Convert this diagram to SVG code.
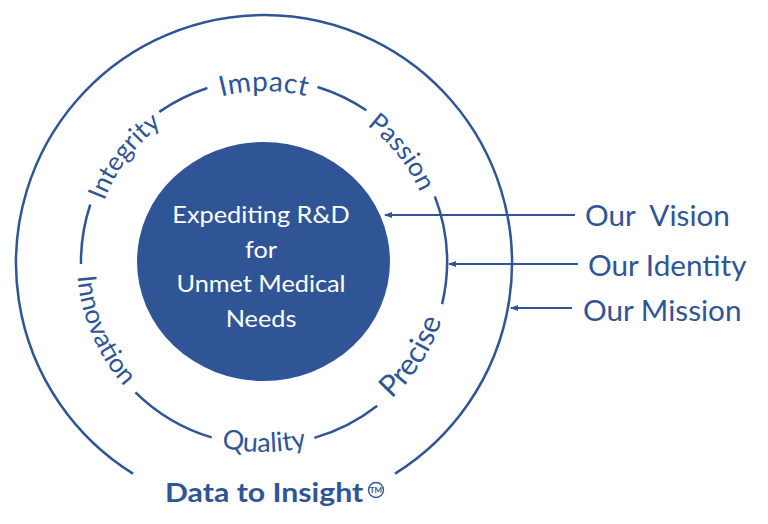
<svg xmlns="http://www.w3.org/2000/svg" xmlns:xlink="http://www.w3.org/1999/xlink" width="768" height="524" viewBox="0 0 768 524">
<style>
.ln{fill:none;stroke:#2F5597;stroke-width:2.5;}
.ar{fill:none;stroke:#2F5597;stroke-width:2;}
.t{font-family:Lato,"Liberation Sans",sans-serif;fill:#2F5597;}
.w{font-family:Lato,"Liberation Sans",sans-serif;fill:#FFFFFF;font-size:23px;text-anchor:middle;}
.lab{font-family:Lato,"Liberation Sans",sans-serif;fill:#2F5597;font-size:28px;white-space:pre;}
</style>
<defs>
<marker id="ah" markerWidth="8" markerHeight="6" refX="7" refY="3" orient="auto" markerUnits="userSpaceOnUse">
<path d="M0,0 L8,3 L0,6 Z" fill="#2F5597"/>
</marker>
<path id="topArc" d="M 93,262 A 171 171 0 0 1 435,262"/>
<path id="botArc" d="M 77,262 A 187 187 0 0 0 451,262"/>
<path id="botArcQ" d="M 74,262 A 190 190 0 0 0 454,262"/>
</defs>
<rect width="768" height="524" fill="#FFFFFF"/>
<g id="outer-ring">
<path class="ln" d="M 133,473.6 A 248 248 0 1 1 395,473.6"/>
</g>
<g id="values-ring">
<path class="ln" d="M 159.3,111.9 A 183 183 0 0 1 207.4,88.0"/>
<path class="ln" d="M 317.5,87.0 A 183 183 0 0 1 366.3,110.3"/>
<path class="ln" d="M 434.8,196.4 A 183 183 0 0 1 442.1,304.1"/>
<path class="ln" d="M 377.2,405.8 A 183 183 0 0 1 314.4,437.9"/>
<path class="ln" d="M 211.7,437.4 A 183 183 0 0 1 135.5,392.3"/>
<path class="ln" d="M 81.0,263.9 A 183 183 0 0 1 90.3,204.5"/>
</g>
<g id="values-labels">
<text class="t" font-size="26"><textPath xlink:href="#topArc" href="#topArc" startOffset="20.6%" text-anchor="middle">Integrity</textPath></text>
<text class="t" font-size="28" letter-spacing="0.5"><textPath xlink:href="#topArc" href="#topArc" startOffset="50%" text-anchor="middle">Impact</textPath></text>
<text class="t" font-size="26"><textPath xlink:href="#topArc" href="#topArc" startOffset="78.6%" text-anchor="middle">Passion</textPath></text>
<text class="t" font-size="26"><textPath xlink:href="#botArc" href="#botArc" startOffset="12.8%" text-anchor="middle">Innovation</textPath></text>
<text class="t" font-size="27"><textPath xlink:href="#botArcQ" href="#botArcQ" startOffset="50%" text-anchor="middle">Quality</textPath></text>
<text class="t" font-size="30"><textPath xlink:href="#botArc" href="#botArc" startOffset="81.9%" text-anchor="middle">Precise</textPath></text>
</g>
<g id="vision-core">
<ellipse cx="263.5" cy="261.5" rx="126.5" ry="119.5" fill="#2F5597"/>
<text class="w" transform="translate(261,223) scale(1.1,1)">Expediting R&amp;D</text>
<text class="w" transform="translate(261,258) scale(1.1,1)">for</text>
<text class="w" transform="translate(261,292) scale(1.1,1)">Unmet Medical</text>
<text class="w" transform="translate(261,327) scale(1.1,1)">Needs</text>
</g>
<g id="connectors">
<line class="ar" x1="575" y1="215" x2="385" y2="215" marker-end="url(#ah)"/>
<line class="ar" x1="578" y1="264" x2="449" y2="264" marker-end="url(#ah)"/>
<line class="ar" x1="572" y1="308" x2="511" y2="308" marker-end="url(#ah)"/>
</g>
<g id="label-vision"><text class="lab" transform="translate(585,226) scale(1.06,1)">Our  Vision</text></g>
<g id="label-identity"><text class="lab" transform="translate(588,276) scale(1.06,1)">Our Identity</text></g>
<g id="label-mission"><text class="lab" transform="translate(583,321) scale(1.06,1)">Our Mission</text></g>
<g id="tagline">
<text class="t" transform="translate(165,502) scale(1.12,1)" font-size="27" font-weight="bold">Data to Insight</text>
<circle cx="376" cy="490" r="7.5" fill="none" stroke="#2F5597" stroke-width="1.4"/>
<text class="t" x="376" y="493" font-size="8" font-weight="bold" text-anchor="middle">TM</text>
</g>
</svg>
